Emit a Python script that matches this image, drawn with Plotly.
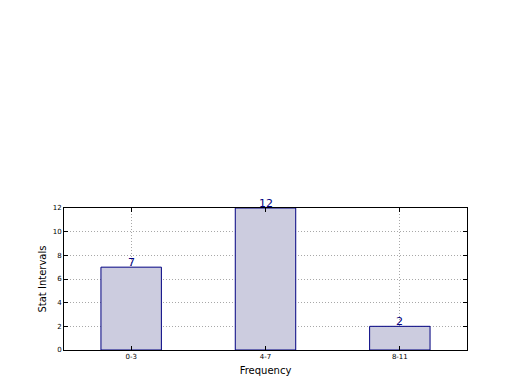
import plotly.graph_objects as go

categories = ["0-3", "4-7", "8-11"]
values = [7, 12, 2]
y_ticks = [0, 2, 4, 6, 8, 10, 12]

fig = go.Figure()
fig.add_trace(go.Bar(
    x=list(range(len(categories))), y=values, width=0.45,
    marker=dict(color="#ccccdf", line=dict(color="#000080", width=1)),
    hoverinfo="skip",
))
for i, v in enumerate(values):
    fig.add_annotation(x=i, y=v, text=str(v), showarrow=False, yanchor="bottom",
                       yshift=-4, font=dict(family="DejaVu Sans", size=11, color="#000080"))

fig.update_layout(
    width=512, height=382, margin=dict(l=56, r=53, t=200, b=40, autoexpand=False),
    paper_bgcolor="white", plot_bgcolor="white", showlegend=False,
    font=dict(family="DejaVu Sans", color="black"),
)
fig.update_xaxes(
    range=[-0.5, 2.5], tickvals=list(range(len(categories))), ticktext=categories,
    ticks="inside", ticklen=4, tickcolor="black", tickfont=dict(size=7),
    showline=True, linecolor="black", linewidth=1, mirror="ticks", automargin=False,
    showgrid=True, gridcolor="#a8a8a8", griddash="1px,2px", gridwidth=1, zeroline=False,
    title=dict(text="Frequency", font=dict(size=10), standoff=6),
)
fig.update_yaxes(
    range=[0, 12], tickvals=y_ticks, ticks="inside", ticklen=4, tickcolor="black",
    tickfont=dict(size=7), showline=True, linecolor="black", linewidth=1, mirror="ticks",
    automargin=False,
    showgrid=True, gridcolor="#a8a8a8", griddash="1px,2px", gridwidth=1, zeroline=False,
    title=dict(text="Stat Intervals", font=dict(size=10), standoff=4),
)
fig.write_html("out.html")
